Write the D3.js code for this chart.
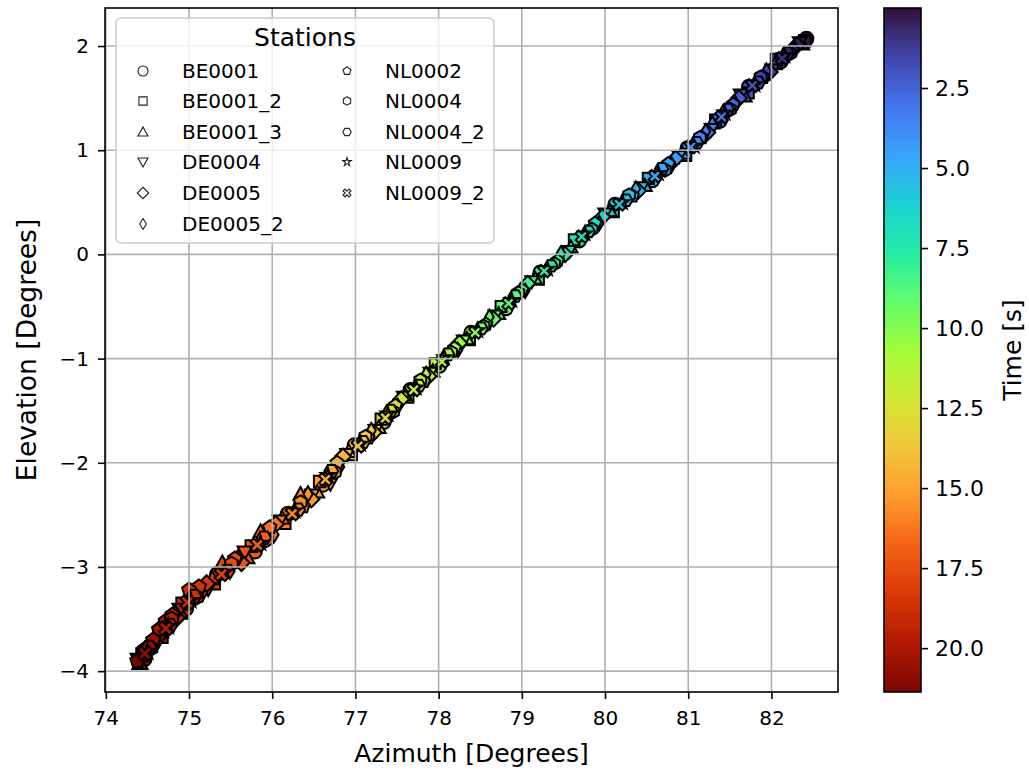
<!DOCTYPE html>
<html><head><meta charset="utf-8">
<script src="https://cdn.jsdelivr.net/npm/d3@7"></script>
<style>body{margin:0;background:#fff} svg{display:block;font-family:"DejaVu Sans",sans-serif}</style>
</head><body><svg id="c" width="1029" height="773"></svg>
<script>
// ---------------- data ----------------
const stationNames = ["BE0001","BE0001_2","BE0001_3","DE0004","DE0005","DE0005_2","NL0002","NL0004","NL0004_2","NL0009","NL0009_2"];
const stationMarkers = ["o","s","^","v","D","d","p","h","H","*","X"];
const xTicks = [74,75,76,77,78,79,80,81,82];
const yTicks = [-4,-3,-2,-1,0,1,2];
const cTicks = [2.5,5.0,7.5,10.0,12.5,15.0,17.5,20.0];
const timeRange = [0.0, 21.37];
// [time (s), azimuth (deg), elevation (deg)]
const BE0001 = [[0.02,82.42,2.07],[1.0,82.11,1.85],[2.0,81.73,1.61],[3.0,81.38,1.28],[4.0,80.99,1.02],[5.0,80.57,0.71],[6.0,80.12,0.48],[7.0,79.69,0.13],[8.0,79.22,-0.17],[9.0,78.81,-0.52],[10.0,78.39,-0.75],[11.0,78.01,-1.07],[12.0,77.66,-1.30],[13.0,77.34,-1.61],[14.0,76.99,-1.83],[15.0,76.61,-2.21],[16.0,76.19,-2.49],[17.0,75.79,-2.85],[18.0,75.34,-3.07],[19.0,74.96,-3.40],[20.0,74.69,-3.58],[21.0,74.46,-3.88]];
const BE0001_2 = [[0.09,82.40,2.05],[1.09,82.06,1.87],[2.09,81.72,1.55],[3.09,81.33,1.29],[4.09,80.97,0.95],[5.09,80.52,0.73],[6.09,80.10,0.41],[7.09,79.63,0.14],[8.09,79.20,-0.24],[9.09,78.75,-0.50],[10.09,78.37,-0.82],[11.09,77.96,-1.05],[12.09,77.63,-1.37],[13.09,77.31,-1.58],[14.09,76.95,-1.92],[15.09,76.57,-2.18],[16.09,76.15,-2.58],[17.09,75.75,-2.80],[18.09,75.30,-3.16],[19.09,74.92,-3.35],[20.09,74.67,-3.67],[21.09,74.44,-3.84]];
const BE0001_3 = [[0.18,82.37,2.02],[1.18,82.04,1.83],[2.18,81.68,1.52],[3.18,81.29,1.26],[4.18,80.93,0.97],[5.18,80.48,0.66],[6.18,80.06,0.42],[7.18,79.59,0.07],[8.18,79.16,-0.23],[9.18,78.72,-0.57],[10.18,78.34,-0.81],[11.18,77.93,-1.12],[12.18,77.60,-1.35],[13.18,77.28,-1.66],[14.18,76.92,-1.89],[15.18,76.54,-2.28],[15.6,76.34,-2.30],[16.18,76.12,-2.53],[16.7,75.86,-2.66],[17.18,75.70,-2.91],[17.8,75.40,-2.96],[18.18,75.28,-3.11],[19.18,74.90,-3.44],[20.18,74.66,-3.62],[21.18,74.41,-3.92]];
const DE0004 = [[0.27,82.34,2.03],[1.27,82.01,1.77],[2.27,81.63,1.53],[3.27,81.28,1.20],[4.27,80.89,0.94],[5.27,80.44,0.64],[6.27,80.00,0.39],[7.27,79.57,0.03],[8.27,79.12,-0.26],[9.27,78.68,-0.59],[10.27,78.30,-0.83],[11.27,77.90,-1.14],[12.27,77.58,-1.37],[13.27,77.24,-1.69],[14.27,76.90,-1.92],[14.8,76.70,-2.20],[15.27,76.48,-2.31],[16.27,76.09,-2.56],[17.27,75.67,-2.86],[18.27,75.23,-3.21],[19.27,74.89,-3.41],[20.27,74.63,-3.71],[21.27,74.39,-3.89]];
const DE0005 = [[0.36,82.31,2.01],[1.36,81.98,1.75],[2.36,81.61,1.50],[3.36,81.23,1.17],[4.36,80.85,0.92],[5.36,80.40,0.61],[6.36,79.97,0.36],[7.36,79.52,0.00],[8.36,79.07,-0.28],[9.36,78.66,-0.62],[10.36,78.25,-0.85],[11.36,77.88,-1.17],[12.36,77.55,-1.39],[13.36,77.22,-1.71],[14.36,76.85,-1.94],[15.36,76.47,-2.35],[16.36,76.04,-2.59],[17.36,75.63,-2.96],[18.36,75.21,-3.16],[19.36,74.85,-3.49],[20.36,74.62,-3.67]];
const DE0005_2 = [[0.45,82.28,1.97],[1.45,81.94,1.76],[2.45,81.57,1.44],[3.45,81.21,1.18],[4.45,80.80,0.86],[5.45,80.37,0.63],[6.45,79.93,0.30],[7.45,79.47,0.01],[8.45,79.04,-0.35],[9.45,78.61,-0.60],[10.45,78.23,-0.92],[11.45,77.85,-1.15],[12.45,77.51,-1.46],[13.45,77.19,-1.69],[14.45,76.81,-2.04],[15.45,76.43,-2.30],[16.45,76.02,-2.69],[17.45,75.59,-2.91],[18.45,75.16,-3.25],[19.45,74.84,-3.45],[20.45,74.59,-3.74]];
const NL0002 = [[0.55,82.25,1.96],[1.55,81.90,1.70],[2.55,81.54,1.44],[3.55,81.16,1.12],[4.55,80.76,0.87],[5.55,80.33,0.56],[6.55,79.88,0.30],[7.55,79.43,-0.06],[8.55,79.00,-0.34],[9.55,78.57,-0.67],[10.55,78.19,-0.90],[11.55,77.82,-1.22],[12.55,77.48,-1.45],[13.55,77.15,-1.76],[14.55,76.78,-2.00],[15.55,76.37,-2.42],[16.55,75.97,-2.62],[17.55,75.55,-2.92],[18.55,75.12,-3.19],[18.8,75.00,-3.22],[19.55,74.80,-3.46],[19.9,74.72,-3.52],[20.2,74.64,-3.60],[20.55,74.57,-3.70],[21.0,74.47,-3.79],[21.37,74.38,-3.90]];
const NL0004 = [[0.64,82.22,1.93],[1.64,81.87,1.70],[2.64,81.50,1.39],[3.64,81.14,1.12],[4.64,80.72,0.81],[5.64,80.29,0.57],[6.64,79.84,0.24],[7.64,79.39,-0.09],[8.64,78.96,-0.37],[9.64,78.54,-0.69],[10.64,78.15,-0.94],[11.64,77.78,-1.21],[12.64,77.45,-1.51],[13.64,77.12,-1.75],[14.64,76.75,-2.09],[15.64,76.34,-2.38],[16.64,75.93,-2.74],[17.64,75.51,-2.97],[18.64,75.09,-3.29],[19.64,74.79,-3.50],[20.64,74.54,-3.78]];
const NL0004_2 = [[0.73,82.19,1.93],[1.73,81.84,1.65],[2.73,81.47,1.39],[3.73,81.10,1.07],[4.73,80.68,0.82],[5.73,80.25,0.52],[6.73,79.80,0.22],[7.73,79.35,-0.11],[8.73,78.92,-0.40],[9.73,78.51,-0.71],[10.73,78.11,-0.96],[11.73,77.76,-1.26],[12.73,77.42,-1.50],[13.73,77.09,-1.80],[14.73,76.71,-2.08],[15.73,76.31,-2.45],[16.73,75.90,-2.72],[17.73,75.46,-3.04],[18.73,75.06,-3.28],[19.73,74.77,-3.56],[20.73,74.52,-3.77]];
const NL0009 = [[0.82,82.16,1.91],[1.82,81.80,1.63],[2.82,81.44,1.36],[3.82,81.07,1.04],[4.82,80.64,0.78],[5.82,80.21,0.50],[6.82,79.76,0.20],[7.82,79.31,-0.14],[8.82,78.88,-0.44],[9.82,78.47,-0.73],[10.82,78.07,-0.99],[11.82,77.73,-1.28],[12.82,77.39,-1.53],[13.82,77.06,-1.82],[14.82,76.67,-2.12],[15.82,76.27,-2.46],[16.82,75.86,-2.77],[17.82,75.43,-3.05],[18.82,75.02,-3.32],[19.82,74.75,-3.57],[20.82,74.50,-3.81]];
const NL0009_2 = [[0.91,82.13,1.88],[1.91,81.77,1.62],[2.91,81.40,1.32],[3.91,81.03,1.03],[4.91,80.60,0.75],[5.91,80.17,0.48],[6.91,79.72,0.17],[7.91,79.27,-0.16],[8.91,78.84,-0.47],[9.91,78.44,-0.75],[10.91,78.04,-1.03],[11.91,77.70,-1.30],[12.91,77.36,-1.57],[13.91,77.03,-1.84],[14.91,76.64,-2.16],[15.91,76.24,-2.49],[16.91,75.82,-2.79],[17.91,75.39,-3.07],[18.91,74.98,-3.34],[19.91,74.72,-3.59],[20.91,74.47,-3.83]];
const stationSeries = [BE0001,BE0001_2,BE0001_3,DE0004,DE0005,DE0005_2,NL0002,NL0004,NL0004_2,NL0009,NL0009_2];
const turboColors = ['#30123b','#4145ab','#4675ed','#39a2fc','#1bcfd4','#24eca6','#61fc6c','#a4fc3b','#d1e834','#f3c63a','#fe9b2d','#f36315','#d93806','#b11901','#7a0402'];

// ---------------- layout ----------------
const svg = d3.select("#c");
const P = {l:105, r:838, t:8, b:692};
const x = d3.scaleLinear().domain([73.99, 82.80]).range([P.l, P.r]);
const y = d3.scaleLinear().domain([-4.20, 2.365]).range([P.b, P.t]);
const cmap = d3.piecewise(d3.interpolateRgb, turboColors);
const color = d3.scaleSequential(cmap).domain(timeRange);
const size = d3.scaleLinear().domain([0, 8, 15, 21.4]).range([7.0, 6.6, 7.0, 7.6]).clamp(true);

function poly(pts){return "M"+pts.map(p=>p[0].toFixed(2)+","+p[1].toFixed(2)).join("L")+"Z";}
function regular(n, r, rot){const a=[];for(let i=0;i<n;i++){const t=rot+2*Math.PI*i/n;a.push([r*Math.sin(t),-r*Math.cos(t)]);}return a;}
function markerPath(m, r){
  switch(m){
    case "o": return d3.symbol(d3.symbolCircle, Math.PI*r*r)();
    case "s": {const a=r*0.82;return poly([[-a,-a],[a,-a],[a,a],[-a,a]]);}
    case "^": return poly([[0,-r],[r,r*0.8],[-r,r*0.8]]);
    case "v": return poly([[0,r],[r,-r*0.8],[-r,-r*0.8]]);
    case "D": {const a=r*1.15;return poly([[0,-a],[a,0],[0,a],[-a,0]]);}
    case "d": {const a=r*1.1;return poly([[0,-a],[a*0.6,0],[0,a],[-a*0.6,0]]);}
    case "p": return poly(regular(5, r, 0));
    case "h": return poly(regular(6, r, 0));
    case "H": return poly(regular(6, r, Math.PI/6));
    case "*": {const a=[];for(let i=0;i<10;i++){const rr=i%2?r*0.4:r*1.05;const t=Math.PI*i/5;a.push([rr*Math.sin(t),-rr*Math.cos(t)]);}return poly(a);}
    case "X": {const w=r*0.32,R=r;const base=[[-w,-R],[w,-R],[w,-w],[R,-w],[R,w],[w,w],[w,R],[-w,R],[-w,w],[-R,w],[-R,-w],[-w,-w]];
      const c=Math.SQRT1_2;return poly(base.map(p=>[(p[0]-p[1])*c,(p[0]+p[1])*c]));}
  }
}

// scatter
stationSeries.forEach((series, si) => {
  svg.append("g").selectAll("path").data(series).join("path")
    .attr("d", d => markerPath(stationMarkers[si], size(d[0])))
    .attr("transform", d => `translate(${x(d[1])},${y(d[2])})`)
    .attr("fill", d => color(d[0]))
    .attr("stroke", "#000").attr("stroke-width", 2.0);
});

// grid (drawn on top of markers)
const grid = svg.append("g").attr("stroke","#b0b0b0").attr("stroke-width",1.6);
grid.selectAll(".gx").data(xTicks).join("line").attr("x1",d=>x(d)).attr("x2",d=>x(d)).attr("y1",P.t).attr("y2",P.b);
grid.selectAll(".gy").data(yTicks).join("line").attr("y1",d=>y(d)).attr("y2",d=>y(d)).attr("x1",P.l).attr("x2",P.r);

// axes
const fmtInt = d3.format("d");
const gx = svg.append("g").attr("transform",`translate(0,${P.b})`)
  .call(d3.axisBottom(x).tickValues(xTicks).tickSize(7).tickPadding(12).tickFormat(fmtInt));
const gy = svg.append("g").attr("transform",`translate(${P.l},0)`)
  .call(d3.axisLeft(y).tickValues(yTicks).tickSize(7).tickPadding(9).tickFormat(fmtInt));
[gx,gy].forEach(g=>{g.select(".domain").remove();g.attr("font-size",20).attr("font-family","DejaVu Sans");
  g.selectAll("line").attr("stroke","#000").attr("stroke-width",1.6);g.selectAll("text").attr("fill","#000");});
svg.append("rect").attr("x",P.l).attr("y",P.t).attr("width",P.r-P.l).attr("height",P.b-P.t)
  .attr("fill","none").attr("stroke","#000").attr("stroke-width",1.6);

svg.append("text").attr("x",(P.l+P.r)/2).attr("y",762).attr("text-anchor","middle").attr("font-size",25).text("Azimuth [Degrees]");
svg.append("text").attr("transform",`translate(36,${(P.t+P.b)/2}) rotate(-90)`).attr("text-anchor","middle").attr("font-size",26.5).text("Elevation [Degrees]");

// colorbar
const C = {l:884, r:921};
const cy = d3.scaleLinear().domain(timeRange).range([P.t, P.b]);
const defs = svg.append("defs");
const grad = defs.append("linearGradient").attr("id","cg").attr("x1",0).attr("x2",0).attr("y1",0).attr("y2",1);
d3.range(0,1.0001,0.02).forEach(o=>grad.append("stop").attr("offset",o).attr("stop-color",cmap(o)));
svg.append("rect").attr("x",C.l).attr("y",P.t).attr("width",C.r-C.l).attr("height",P.b-P.t).attr("fill","url(#cg)")
  .attr("stroke","#000").attr("stroke-width",1.6);
const gc = svg.append("g").attr("transform",`translate(${C.r},0)`)
  .call(d3.axisRight(cy).tickValues(cTicks).tickSize(7).tickPadding(7).tickFormat(d3.format(".1f")));
gc.select(".domain").remove();
gc.attr("font-size",22).attr("font-family","DejaVu Sans");
gc.selectAll("line").attr("stroke","#000").attr("stroke-width",1.6);
gc.selectAll("text").attr("fill","#000");
svg.append("text").attr("transform",`translate(1021,${(P.t+P.b)/2}) rotate(-90)`).attr("text-anchor","middle").attr("font-size",25).text("Time [s]");

// legend
const L = svg.append("g");
L.append("rect").attr("x",116).attr("y",18).attr("width",378).attr("height",225).attr("rx",5)
  .attr("fill","#fff").attr("fill-opacity",0.8).attr("stroke","#cccccc").attr("stroke-width",1.5);
L.append("text").attr("x",305).attr("y",46).attr("text-anchor","middle").attr("font-size",25).text("Stations");
const rowY = [71,101,132,162,193,224];
stationNames.forEach((name,i)=>{
  const col = i<6?0:1, row = i<6?i:i-6;
  const mx = col?347:143, tx = col?385:182, yy = rowY[row];
  const rr = col?4.2:5;
  L.append("path").attr("d",markerPath(stationMarkers[i], rr)).attr("transform",`translate(${mx},${yy})`)
    .attr("fill","#fff").attr("stroke","#222").attr("stroke-width",1.1);
  L.append("text").attr("x",tx).attr("y",yy+7).attr("font-size",20).text(name);
});
</script></body></html>
